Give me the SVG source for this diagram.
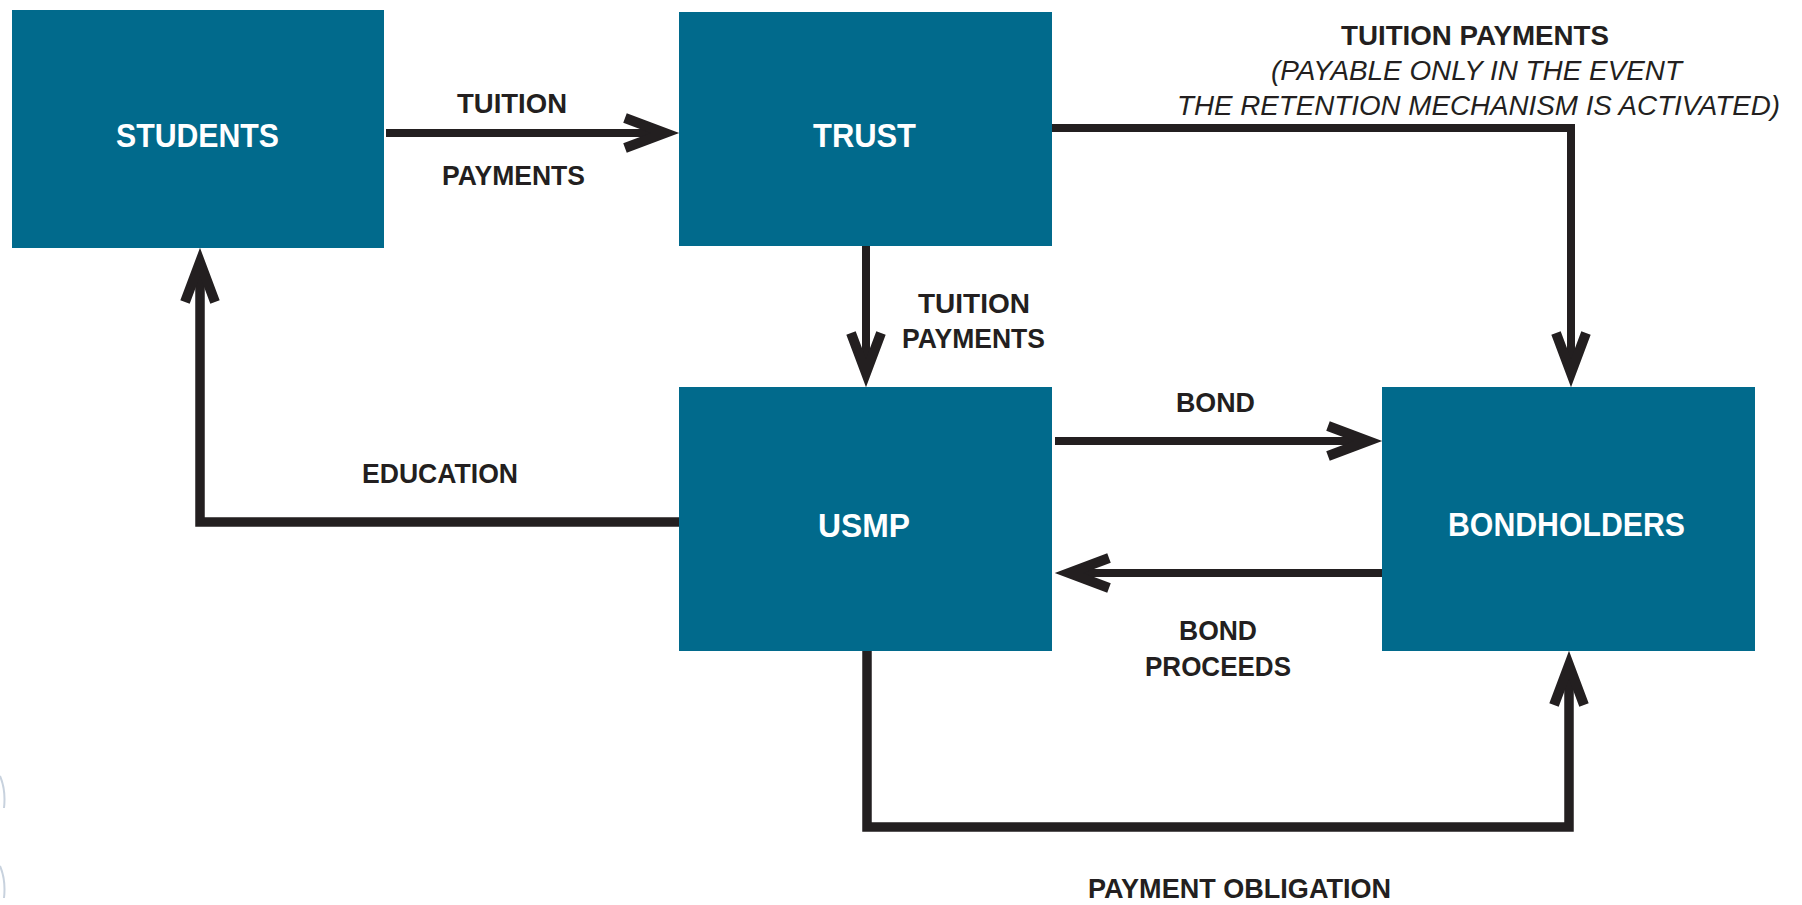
<svg xmlns="http://www.w3.org/2000/svg" width="1802" height="905" viewBox="0 0 1802 905">
  <style>
    .box { fill: #016a8c; }
    .title { font-family: "Liberation Sans", Arial, sans-serif; font-weight: bold; font-size: 34px; fill: #ffffff; }
    .label { font-family: "Liberation Sans", Arial, sans-serif; font-weight: bold; font-size: 28px; fill: #231f20; }
    .note { font-family: "Liberation Sans", Arial, sans-serif; font-style: italic; font-size: 27px; fill: #231f20; }
    .wire { fill: none; stroke: #231f20; stroke-width: 8; stroke-linejoin: miter; stroke-linecap: butt; }
    .wire.heavy { stroke-width: 9.5; }
  </style>
  <defs>
    <!-- open chevron head; vertex sits on the path end, the mitred point reaches ~14px further -->
    <marker id="head" markerUnits="userSpaceOnUse" markerWidth="80" markerHeight="60" viewBox="-60 -30 80 60" refX="0" refY="0" orient="auto" overflow="visible">
      <path d="M -40 -15 L 0 0 L -40 15" fill="none" stroke="#231f20" stroke-width="10" stroke-linejoin="miter" stroke-miterlimit="10"/>
    </marker>
  </defs>

  <rect width="1802" height="905" fill="#ffffff"/>

  <!-- faint marks clipped at the left margin -->
  <path d="M 0 776 Q 6 790 4 808" fill="none" stroke="#c8d2de" stroke-width="2"/>
  <path d="M 0 866 Q 6 880 4 898" fill="none" stroke="#c8d2de" stroke-width="2"/>

  <g id="connectors">
    <!-- students -> trust -->
    <path class="wire" d="M 386 133 H 665" marker-end="url(#head)"/>
    <!-- trust -> bondholders (retention) -->
    <path class="wire" d="M 1052 128 H 1571 V 373" marker-end="url(#head)"/>
    <!-- trust -> usmp -->
    <path class="wire" d="M 866 246 V 373" marker-end="url(#head)"/>
    <!-- usmp -> students (education) -->
    <path class="wire heavy" d="M 680 522 H 200 V 262" marker-end="url(#head)"/>
    <!-- usmp -> bondholders (bond) -->
    <path class="wire" d="M 1055 441 H 1368" marker-end="url(#head)"/>
    <!-- bondholders -> usmp (bond proceeds) -->
    <path class="wire" d="M 1382 573 H 1069" marker-end="url(#head)"/>
    <!-- usmp -> bondholders (payment obligation) -->
    <path class="wire heavy" d="M 867 650 V 827 H 1569 V 665" marker-end="url(#head)"/>

    <text class="label" x="457" y="113" textLength="110" lengthAdjust="spacingAndGlyphs">TUITION</text>
    <text class="label" x="442" y="185" textLength="143" lengthAdjust="spacingAndGlyphs">PAYMENTS</text>

    <text class="label" x="1341" y="45" textLength="268" lengthAdjust="spacingAndGlyphs">TUITION PAYMENTS</text>
    <text class="note" x="1271" y="80" textLength="411" lengthAdjust="spacingAndGlyphs">(PAYABLE ONLY IN THE EVENT</text>
    <text class="note" x="1177" y="115" textLength="603" lengthAdjust="spacingAndGlyphs">THE RETENTION MECHANISM IS ACTIVATED)</text>

    <text class="label" x="918" y="313" textLength="112" lengthAdjust="spacingAndGlyphs">TUITION</text>
    <text class="label" x="902" y="348" textLength="143" lengthAdjust="spacingAndGlyphs">PAYMENTS</text>

    <text class="label" x="1176" y="412" textLength="79" lengthAdjust="spacingAndGlyphs">BOND</text>
    <text class="label" x="362" y="483" textLength="156" lengthAdjust="spacingAndGlyphs">EDUCATION</text>

    <text class="label" x="1179" y="640" textLength="78" lengthAdjust="spacingAndGlyphs">BOND</text>
    <text class="label" x="1145" y="676" textLength="146" lengthAdjust="spacingAndGlyphs">PROCEEDS</text>

    <text class="label" x="1088" y="898" textLength="303" lengthAdjust="spacingAndGlyphs">PAYMENT OBLIGATION</text>
  </g>

  <g id="students">
    <rect class="box" x="12" y="10" width="372" height="238"/>
    <text class="title" x="116" y="147" textLength="163" lengthAdjust="spacingAndGlyphs">STUDENTS</text>
  </g>

  <g id="trust">
    <rect class="box" x="679" y="12" width="373" height="234"/>
    <text class="title" x="813" y="147" textLength="103" lengthAdjust="spacingAndGlyphs">TRUST</text>
  </g>

  <g id="usmp">
    <rect class="box" x="679" y="387" width="373" height="264"/>
    <text class="title" x="818" y="537" textLength="92" lengthAdjust="spacingAndGlyphs">USMP</text>
  </g>

  <g id="bondholders">
    <rect class="box" x="1382" y="387" width="373" height="264"/>
    <text class="title" x="1448" y="536" textLength="237" lengthAdjust="spacingAndGlyphs">BONDHOLDERS</text>
  </g>
</svg>
